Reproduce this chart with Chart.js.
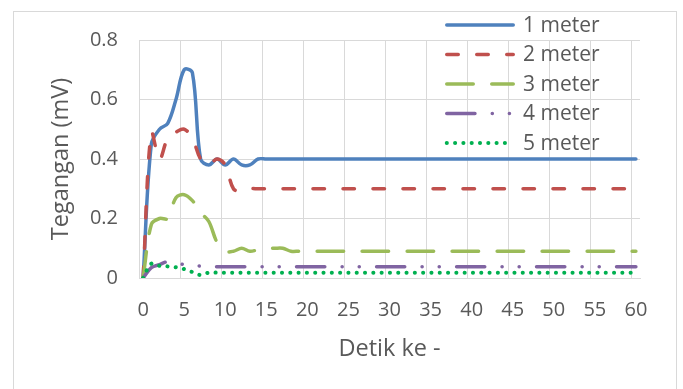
<!DOCTYPE html>
<html><head><meta charset="utf-8">
<script src="https://cdn.jsdelivr.net/npm/chart.js@4.4.1/dist/chart.umd.min.js"></script>
<style>
html,body{margin:0;padding:0;background:#fff;}
#wrap{position:relative;width:683px;height:389px;overflow:hidden;background:#fff;}
#frame{position:absolute;left:13px;top:11px;width:664px;height:420px;border:1px solid #d9d9d9;box-sizing:border-box;}
canvas{position:absolute;left:0;top:0;}
</style></head><body>
<div id="wrap"><div id="frame"></div><canvas id="c" width="683" height="389"></canvas></div>
<script>
const detik = [0,1,2,3,4,5,6,7,8,9,10,11,12,13,14,15,16,17,18,19,20,21,22,23,24,25,26,27,28,29,30,31,32,33,34,35,36,37,38,39,40,41,42,43,44,45,46,47,48,49,50,51,52,53,54,55,56,57,58,59,60];
const seriesNames = ['1 meter','2 meter','3 meter','4 meter','5 meter'];
const meter1 = [0,0.45,0.50,0.52,0.60,0.70,0.69,0.40,0.38,0.40,0.38,0.40,0.38,0.38,0.40,0.40,0.40,0.40,0.40,0.40,0.40,0.40,0.40,0.40,0.40,0.40,0.40,0.40,0.40,0.40,0.40,0.40,0.40,0.40,0.40,0.40,0.40,0.40,0.40,0.40,0.40,0.40,0.40,0.40,0.40,0.40,0.40,0.40,0.40,0.40,0.40,0.40,0.40,0.40,0.40,0.40,0.40,0.40,0.40,0.40,0.40];
const meter2 = [0,0.49,0.40,0.47,0.49,0.50,0.47,0.40,0.38,0.40,0.38,0.30,0.29,0.30,0.30,0.30,0.30,0.30,0.30,0.30,0.30,0.30,0.30,0.30,0.30,0.30,0.30,0.30,0.30,0.30,0.30,0.30,0.30,0.30,0.30,0.30,0.30,0.30,0.30,0.30,0.30,0.30,0.30,0.30,0.30,0.30,0.30,0.30,0.30,0.30,0.30,0.30,0.30,0.30,0.30,0.30,0.30,0.30,0.30,0.30,0.30];
const meter3 = [0,0.18,0.20,0.20,0.27,0.28,0.26,0.22,0.19,0.12,0.09,0.09,0.10,0.09,0.095,0.10,0.10,0.10,0.09,0.09,0.09,0.09,0.09,0.09,0.09,0.09,0.09,0.09,0.09,0.09,0.09,0.09,0.09,0.09,0.09,0.09,0.09,0.09,0.09,0.09,0.09,0.09,0.09,0.09,0.09,0.09,0.09,0.09,0.09,0.09,0.09,0.09,0.09,0.09,0.09,0.09,0.09,0.09,0.09,0.09,0.09];
const meter4 = [0,0.035,0.045,0.055,0.05,0.045,0.043,0.04,0.038,0.038,0.038,0.038,0.038,0.038,0.038,0.038,0.038,0.038,0.038,0.038,0.038,0.038,0.038,0.038,0.038,0.038,0.038,0.038,0.038,0.038,0.038,0.038,0.038,0.038,0.038,0.038,0.038,0.038,0.038,0.038,0.038,0.038,0.038,0.038,0.038,0.038,0.038,0.038,0.038,0.038,0.038,0.038,0.038,0.038,0.038,0.038,0.038,0.038,0.038,0.038,0.038];
const meter5 = [0,0.048,0.041,0.039,0.036,0.03,0.02,0.01,0.018,0.018,0.018,0.018,0.018,0.018,0.018,0.018,0.018,0.018,0.018,0.018,0.018,0.018,0.018,0.018,0.018,0.018,0.018,0.018,0.018,0.018,0.018,0.018,0.018,0.018,0.018,0.018,0.018,0.018,0.018,0.018,0.018,0.018,0.018,0.018,0.018,0.018,0.018,0.018,0.018,0.018,0.018,0.018,0.018,0.018,0.018,0.018,0.018,0.018,0.018,0.018,0.018];
const yTicks = [0,0.2,0.4,0.6,0.8];
const xTitle = 'Detik ke -';
const yTitle = 'Tegangan (mV)';

const FONT = '"Open Sans", "DejaVu Sans", sans-serif';
const TXT = '#595959';
const GRID = '#d9d9d9';

const styles = [
  {color:'#4F81BD', width:3.5, dash:[], cap:'round'},
  {color:'#C0504D', width:3.5, dash:[11.5,18.5], cap:'round'},
  {color:'#9BBB59', width:3.5, dash:[26.5,18.5], cap:'round'},
  {color:'#8064A2', width:3.5, dash:[28.2,17.3,0.1,17,0.1,17.3], cap:'round'},
  {color:'#00B050', width:4, dash:[0.1,8.2], cap:'round'}
];
const values = [meter1, meter2, meter3, meter4, meter5];

const datasets = values.map((v, i) => ({
  label: seriesNames[i],
  data: v,
  borderColor: styles[i].color,
  backgroundColor: styles[i].color,
  borderWidth: styles[i].width,
  borderDash: styles[i].dash,
  borderCapStyle: styles[i].cap,
  borderJoinStyle: 'round',
  pointRadius: 0,
  tension: 0.35,
  fill: false,
  order: 5 - i
}));

const legendPlugin = {
  id: 'excelLegend',
  afterDraw(chart) {
    const ctx = chart.ctx;
    const x0 = 446.75, x1 = 513.25, tx = 523, top = 25, step = 29.5;
    chart.data.datasets.forEach((ds, i) => {
      const y = top + step * i;
      ctx.save();
      ctx.strokeStyle = ds.borderColor;
      ctx.lineWidth = ds.borderWidth;
      ctx.lineCap = ds.borderCapStyle;
      ctx.setLineDash(ds.borderDash || []);
      ctx.beginPath();
      ctx.moveTo(x0, y);
      ctx.lineTo(i === 4 ? x1 - 5 : x1, y);
      ctx.stroke();
      ctx.setLineDash([]);
      ctx.fillStyle = TXT;
      ctx.font = '21px ' + FONT;
      ctx.textBaseline = 'middle';
      ctx.textAlign = 'left';
      ctx.fillText(ds.label, tx, y + 1);
      ctx.restore();
    });
  }
};

new Chart(document.getElementById('c'), {
  type: 'line',
  data: { labels: detik, datasets },
  options: {
    responsive: false,
    animation: false,
    devicePixelRatio: 1,
    layout: { padding: { left: 43.6, top: 40, right: 43, bottom: 21.6 } },
    plugins: { legend: { display: false }, tooltip: { enabled: false } },
    scales: {
      x: {
        type: 'category',
        offset: true,
        afterFit: (s) => { s.height = 89.4; },
        grid: {
          offset: true,
          drawTicks: false,
          color: (c) => (c.index !== undefined && c.index % 5 === 0) ? GRID : 'rgba(0,0,0,0)',
          lineWidth: 1
        },
        border: { display: true, color: GRID, width: 1 },
        ticks: {
          autoSkip: false,
          maxRotation: 0,
          padding: 20,
          color: TXT,
          font: { family: FONT, size: 20 },
          callback: (val, idx) => idx % 5 === 0 ? String(detik[idx]) : ''
        },
        title: { display: true, text: xTitle, color: TXT, font: { family: FONT, size: 23.5 }, padding: { top: 4, bottom: 4 } }
      },
      y: {
        min: 0, max: 0.8,
        afterFit: (s) => { s.width = 95.4; },
        afterBuildTicks: (s) => { s.ticks = yTicks.map(v => ({ value: v })); },
        grid: { color: GRID, drawTicks: false, lineWidth: 1 },
        border: { display: false },
        ticks: {
          padding: 21,
          color: TXT,
          font: { family: FONT, size: 20 },
          callback: (v) => v === 0 ? '0' : v.toFixed(1)
        },
        title: { display: true, text: yTitle, color: TXT, font: { family: FONT, size: 23.5 }, padding: { top: 4, bottom: 4 } }
      }
    }
  },
  plugins: [legendPlugin]
});
</script>
</body></html>
